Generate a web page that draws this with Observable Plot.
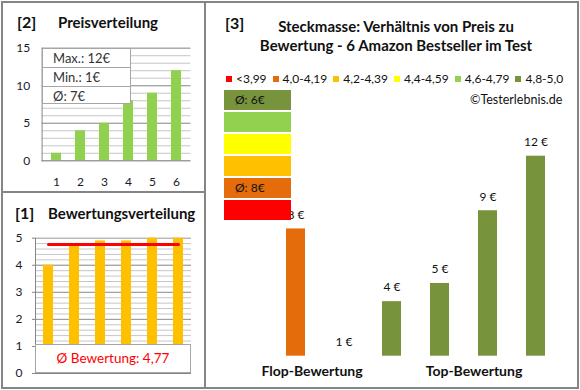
<!DOCTYPE html>
<html><head><meta charset="utf-8">
<script src="https://cdn.jsdelivr.net/npm/d3@7"></script>
<script src="https://cdn.jsdelivr.net/npm/@observablehq/plot@0.6"></script>
<style>
body{margin:0;background:#fff;font-family:Lato,"Open Sans",sans-serif;color:#111}
#root{position:relative;width:580px;height:390px;overflow:hidden;background:#fff}
#root>*{position:absolute}
.t{white-space:nowrap;line-height:1}
.b{font-weight:bold}
</style></head><body><div id="root"></div>
<script>
// ---- data ----
const productIds = ["1", "2", "3", "4", "5", "6"];
const prices = [1, 4, 5, 8, 9, 12];
const ratings = [4.0, 4.8, 4.9, 4.9, 5.0, 5.0];
const comparePrices = [8, 1, 4, 5, 9, 12];
const compareRatings = [4.0, 4.8, 4.9, 4.9, 5.0, 5.0];
const classLabels = ["<3,99", "4,0-4,19", "4,2-4,39", "4,4-4,59", "4,6-4,79", "4,8-5,0"];
const classMins = [0, 4.0, 4.2, 4.4, 4.6, 4.8];
const classColors = ["#FF0000", "#E46C0A", "#FFC000", "#FFFF00", "#92D050", "#77933C"];
const groupLabels = ["Flop-Bewertung", "Top-Bewertung"];

const root = document.getElementById("root");
function el(tag, css, html) {
  const e = document.createElement(tag);
  e.style.cssText = css;
  if (html !== undefined) e.innerHTML = html;
  root.appendChild(e);
  return e;
}
const font = {fontFamily: "Lato, sans-serif", fontSize: "12px", color: "#1a1a2a", background: "transparent", overflow: "visible"};
const classOf = r => { let k = 0; classMins.forEach((m, i) => { if (r >= m) k = i; }); return k; };

// ---- panel [2] Preisverteilung ----
{
  const W = 201, H = 188, L = 38.6, R = 187.4, T = 44.7, B = 157.3;
  const data = productIds.map((id, i) => ({id, price: prices[i]}));
  const p = Plot.plot({
    width: W, height: H, marginLeft: L, marginRight: W - R, marginTop: T, marginBottom: H - B,
    style: font,
    x: {type: "band", domain: productIds, range: [L, R], paddingInner: 0.6, paddingOuter: 0.3},
    y: {domain: [0, 15], range: [B, T]},
    marks: [
      Plot.ruleY(d3.range(0, 16), {stroke: "#c6c6c6"}),
      Plot.ruleY([5, 10, 15], {stroke: "#999"}),
      Plot.barY(data, {x: "id", y: "price", fill: "#92D050"}),
      Plot.ruleY([0], {stroke: "#868686"}),
      Plot.frame({anchor: "left", stroke: "#868686"}),
      Plot.axisX({tickSize: 0, tickPadding: 17, label: null, fontSize: 12}),
      Plot.axisY({ticks: [0, 5, 10, 15], tickFormat: d3.format("d"), tickSize: 0, tickPadding: 12, label: null, fontSize: 12})
    ]
  });
  p.style.left = "3px"; p.style.top = "3px";
  root.appendChild(p);
  el("div", "left:17px;top:12px;font-size:16px;", "<span class='t b'>[2]</span>");
  el("div", "left:58px;top:13px;font-size:15px;", "<span class='t b'>Preisverteilung</span>");
  const stats = [["Max.", d3.max(prices)], ["Min.", d3.min(prices)], ["Ø", Math.round(d3.mean(prices))]];
  el("div", "left:42px;top:48px;width:89px;height:56px;box-sizing:border-box;border:1px solid #a6a6a6;background:#fff;",
    stats.map((s, i) => `<div style="height:${i < 2 ? 18 : 17}px;${i < 2 ? 'border-bottom:1px solid #a6a6a6;' : ''}font-size:13px;line-height:18px;padding-left:10px;color:#333">${s[0]}: ${s[1]}€</div>`).join(""));
}

// ---- panel [1] Bewertungsverteilung ----
{
  const W = 201, H = 193, L = 32, R = 188, T = 43.7, B = 179;
  const data = productIds.map((id, i) => ({id, rating: ratings[i]}));
  const avg = d3.mean(ratings);
  const p = Plot.plot({
    width: W, height: H, marginLeft: L, marginRight: W - R, marginTop: T, marginBottom: H - B,
    style: font,
    x: {type: "band", domain: productIds, range: [L, R], paddingInner: 0.6, paddingOuter: 0.3, axis: null},
    y: {domain: [0, 5], range: [B, T]},
    marks: [
      Plot.ruleY(d3.range(0, 25).map(i => i / 5), {stroke: "#c6c6c6"}),
      Plot.ruleY([1, 2, 3, 4, 5], {stroke: "#999"}),
      Plot.barY(data, {x: "id", y: "rating", fill: "#FFC000"}),
      Plot.line([{id: productIds[0], v: avg}, {id: productIds[productIds.length - 1], v: avg}], {x: "id", y: "v", stroke: "#FF0000", strokeWidth: 3}),
      Plot.ruleY([0], {stroke: "#868686"}),
      Plot.frame({anchor: "left", stroke: "#868686"}),
      Plot.axisY({ticks: [0, 1, 2, 3, 4, 5], tickFormat: d3.format("d"), tickSize: 3, stroke: "#868686", tickPadding: 10, label: null, fontSize: 12})
    ]
  });
  p.style.left = "3px"; p.style.top = "194px";
  root.appendChild(p);
  el("div", "left:15px;top:203px;font-size:16px;", "<span class='t b'>[1]</span>");
  el("div", "left:48px;top:204px;font-size:15px;", "<span class='t b'>Bewertungsverteilung</span>");
  el("div", "left:35px;top:344px;width:156px;height:29px;box-sizing:border-box;border:1px solid #a6a6a6;background:#fff;text-align:center;color:#FF0000;font-size:13.5px;line-height:27px;white-space:nowrap;",
    "Ø Bewertung: " + avg.toFixed(2).replace(".", ","));
}

// ---- panel [3] Preis / Bewertung ----
{
  const W = 372, H = 385, L = 65.5, R = 353.5, B = 352.7, T = 152.7;
  const idx = comparePrices.map((_, i) => i);
  const data = idx.map(i => ({i, price: comparePrices[i], color: classColors[classOf(compareRatings[i])]}));
  const p = Plot.plot({
    width: W, height: H, marginLeft: L, marginRight: W - R, marginTop: 10, marginBottom: H - B,
    style: font,
    x: {type: "band", domain: idx, range: [L, R], paddingInner: 0.6, paddingOuter: 0.3, axis: null},
    y: {domain: [1, 12], range: [B, T], axis: null},
    marks: [
      Plot.barY(data, {x: "i", y1: 1, y2: "price", fill: "color"}),
      Plot.text(data, {x: "i", y: "price", text: d => d.price + " €", dy: -14, fontSize: 12, fill: "#111"})
    ]
  });
  p.style.left = "206px"; p.style.top = "3px";
  root.appendChild(p);
  el("div", "left:225px;top:13px;font-size:16px;", "<span class='t b'>[3]</span>");
  el("div", "left:206px;top:17px;width:380px;text-align:center;font-size:15px;line-height:19px;font-weight:bold;white-space:nowrap;",
    "Steckmasse: Verhältnis von Preis zu<br>Bewertung - 6 Amazon Bestseller im Test");
  el("div", "left:226px;top:72px;display:flex;gap:6px;font-size:12px;line-height:14px;",
    classLabels.map((l, i) => `<span style="display:flex;align-items:center;white-space:nowrap"><span style="display:inline-block;width:6px;height:6px;background:${classColors[i]};margin-right:4px"></span>${l}</span>`).join(""));
  el("div", "left:470px;top:92px;font-size:12.5px;", "<span class='t'>©Testerlebnis.de</span>");
  // class boxes (top = best)
  const order = d3.range(classColors.length).reverse();
  order.forEach((k, j) => {
    const members = comparePrices.filter((_, i) => classOf(compareRatings[i]) === k);
    const txt = members.length ? "Ø: " + Math.round(d3.mean(members)) + "€" : "";
    el("div", `left:224px;top:${90 + 22 * j}px;width:67px;height:20px;background:${classColors[k]};font-size:12px;line-height:20px;padding-left:11px;box-sizing:border-box;`, txt);
  });
  el("div", "left:252px;top:362px;width:120px;text-align:center;font-size:14px;font-weight:bold;white-space:nowrap;", groupLabels[0]);
  el("div", "left:414px;top:362px;width:120px;text-align:center;font-size:14px;font-weight:bold;white-space:nowrap;", groupLabels[1]);
}

// ---- panel borders ----
el("div", "left:1px;top:1px;width:578px;height:388px;box-sizing:border-box;border:2px solid #858585;");
el("div", "left:204px;top:1px;width:2px;height:388px;background:#858585;");
el("div", "left:1px;top:191px;width:204px;height:2px;background:#858585;");
</script></body></html>
